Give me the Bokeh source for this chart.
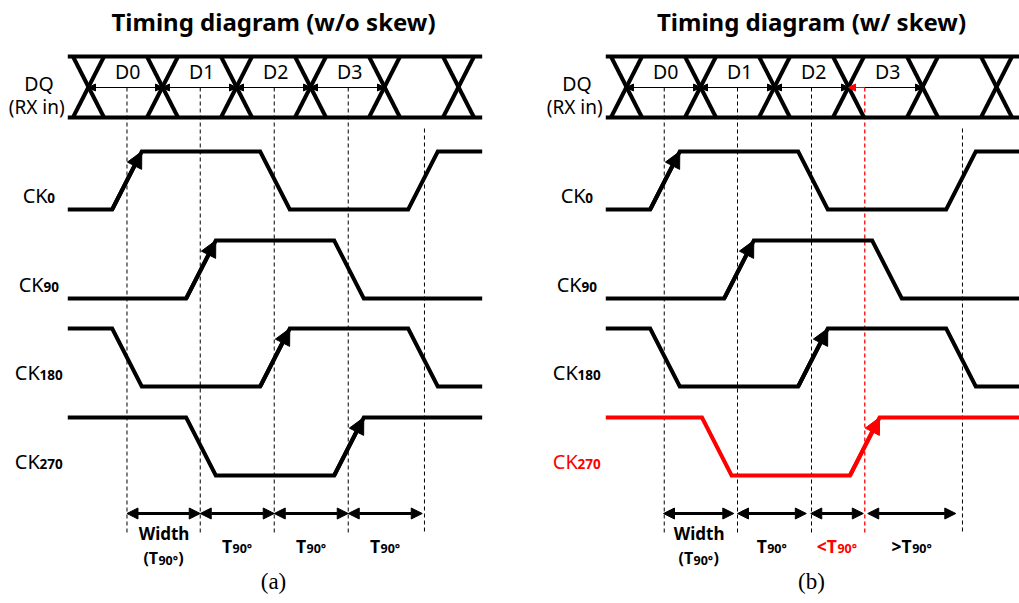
from bokeh.plotting import figure
from bokeh.layouts import row
from bokeh.models import Range1d, Arrow, NormalHead
from bokeh.core.properties import value
from bokeh.embed import file_html
from bokeh.resources import INLINE

# ---------------- data (times in unit intervals, UI) ----------------
titles = ["Timing diagram (w/o skew)", "Timing diagram (w/ skew)"]
panel_tags = ["(a)", "(b)"]
dq_crossings = [0, 1, 2, 3, 4, 5]
dq_words = ["D0", "D1", "D2", "D3"]
clock_subs = ["0", "90", "180", "270"]
clock_init = [0, 0, 1, 1]
clock_edges = [[0.52, 2.52, 4.52], [1.52, 3.52], [0.52, 2.52, 4.52], [1.52, 3.52]]
clock_sample_edge = [0.52, 1.52, 2.52, 3.52]
edge_time = 0.40
ck270_skew = [0.0, -0.30]
sample_marks_a = [0.52, 1.51, 2.51, 3.51, 4.54]
sample_marks_b = [0.51, 1.50, 2.50, 4.54]
skew_mark_b = 3.22
span_a = [(0.52, 1.51), (1.51, 2.51), (2.51, 3.51), (3.51, 4.51)]
span_b = [(0.50, 1.45), (1.50, 2.43), (2.49, 3.20), (3.26, 4.45)]
span_labels_a = ["Width", "T90", "T90", "T90"]
span_labels_b = ["Width", "T90", "<T90", ">T90"]
t_begin, t_end = -0.28, 5.32

# ---------------- layout / style ----------------
FONT = "Noto Sans"
RED = "#ff0000"
PX_PER_UI = 74.0
H = 603
PANEL_W = [510, 509]
ORIGIN_PX = [88, 116]
DQ_TOP, DQ_BOT, DQ_MID = 56, 117, 87
CK_HIGH = [151, 240, 328, 417]
SWING = 58
X_HALF = 0.21
LABEL_T = -0.67

EM = {"C": 0.632, "K": 0.604, "T": 0.60, "(": 0.34, ")": 0.34, "<": 0.58,
      ">": 0.58, "°": 0.43, "W": 0.96, "i": 0.30, "d": 0.63, "t": 0.40, "h": 0.64}


def text_w(s, size):
    return sum(EM.get(ch, 0.58) for ch in s) * size


def pieces_label(p, cx, base_y, pieces, color="black"):
    widths = [text_w(t, s) for t, s, _, _ in pieces]
    off = -sum(widths) / 2.0
    for (t, s, dy, b), w in zip(pieces, widths):
        p.text(x=[cx], y=[base_y + dy], text=[t], x_offset=off,
               text_align="left", text_baseline="alphabetic",
               text_font=value(FONT), text_font_size=f"{s}px",
               text_font_style="bold" if b else "normal", text_color=color)
        off += w


def clock_path(init, edges, yh, yl):
    lvl = init
    xs = [t_begin]
    ys = [yh if lvl else yl]
    for e in edges:
        xs += [e - edge_time / 2, e + edge_time / 2]
        ys += [ys[-1], yl if lvl else yh]
        lvl = 1 - lvl
    xs.append(t_end)
    ys.append(ys[-1])
    return xs, ys


def span_label(p, cx, lab, color):
    if lab == "Width":
        pieces_label(p, cx, 533, [("Width", 17, 0, True)], color)
        pieces_label(p, cx, 557, [("(T", 16, 0, True), ("90°", 12.5, 3, True), (")", 16, 0, True)], color)
    else:
        pre = lab[:-2]
        pieces_label(p, cx, 545, [(pre, 17.5, 0, True), ("90°", 12.5, 3, True)], color)


def build(k):
    w = PANEL_W[k]
    o = ORIGIN_PX[k]
    p = figure(width=w, height=H, output_backend="svg", toolbar_location=None,
               x_range=Range1d(-o / PX_PER_UI, (w - o) / PX_PER_UI),
               y_range=Range1d(H, 0), min_border=0)
    p.axis.visible = False
    p.grid.visible = False
    p.outline_line_color = None
    p.background_fill_color = "white"
    p.border_fill_color = "white"

    # dashed sampling markers
    marks = sample_marks_a if k == 0 else sample_marks_b
    xs, ys = [], []
    for i, m in enumerate(marks):
        top = 128 if i == len(marks) - 1 else DQ_MID
        xs.append([m, m])
        ys.append([top, 533])
    p.multi_line(xs, ys, line_color="black", line_width=1, line_dash="4 3")
    if k == 1:
        p.line([skew_mark_b, skew_mark_b], [DQ_MID, 535], line_color=RED,
               line_width=1.3, line_dash="4 3")

    # DQ bus
    p.multi_line([[t_begin, t_end], [t_begin, t_end]], [[DQ_TOP, DQ_TOP], [DQ_BOT, DQ_BOT]],
                 line_color="black", line_width=4)
    xs, ys = [], []
    for c in dq_crossings:
        xs += [[c - X_HALF, c + X_HALF], [c - X_HALF, c + X_HALF]]
        ys += [[DQ_TOP, DQ_BOT], [DQ_BOT, DQ_TOP]]
    p.multi_line(xs, ys, line_color="black", line_width=4)

    # DQ word arrows
    if k == 0:
        segs = [(dq_crossings[i], dq_crossings[i + 1], True, True, "black") for i in range(4)]
    else:
        segs = [(dq_crossings[i], dq_crossings[i + 1], True, True, "black") for i in range(3)]
        segs.append((skew_mark_b, dq_crossings[4], False, True, "black"))
        segs.append((skew_mark_b, dq_crossings[3], False, True, RED))
    for a, b, hs, he, col in segs:
        p.add_layout(Arrow(x_start=a, y_start=DQ_MID, x_end=b, y_end=DQ_MID,
                           line_color=col, line_width=1.2,
                           start=NormalHead(size=7, fill_color=col, line_color=col) if hs else None,
                           end=NormalHead(size=7, fill_color=col, line_color=col) if he else None))
    for i, wd in enumerate(dq_words):
        p.text(x=[i + 0.53], y=[71], text=[wd], text_align="center", text_baseline="middle",
               text_font=value(FONT), text_font_size="19.5px", text_color="black")
    p.text(x=[LABEL_T], y=[83], text=["DQ"], text_align="center", text_baseline="middle",
           text_font=value(FONT), text_font_size="19.5px", text_color="black")
    p.text(x=[LABEL_T - 0.03], y=[106], text=["(RX in)"], text_align="center", text_baseline="middle",
           text_font=value(FONT), text_font_size="19px", text_color="black")

    # clocks
    for i in range(4):
        shift = ck270_skew[k] if i == 3 else 0.0
        col = RED if (i == 3 and k == 1) else "black"
        yh = CK_HIGH[i]
        yl = yh + SWING
        edges = [e + shift for e in clock_edges[i]]
        xs, ys = clock_path(clock_init[i], edges, yh, yl)
        p.line(xs, ys, line_color=col, line_width=4, line_join="miter")
        se = clock_sample_edge[i] + shift
        p.add_layout(Arrow(x_start=se - edge_time / 2, y_start=yl,
                           x_end=se + edge_time / 2, y_end=yh,
                           line_color=col, line_width=4, start=None,
                           end=NormalHead(size=16, fill_color=col, line_color=col)))
        pieces_label(p, LABEL_T, yl - 14, [("CK", 20, 0, False), (clock_subs[i], 13.5, 2, True)], col)

    # bottom spans
    spans = span_a if k == 0 else span_b
    labs = span_labels_a if k == 0 else span_labels_b
    for (a, b), lab in zip(spans, labs):
        p.add_layout(Arrow(x_start=a, y_start=513, x_end=b, y_end=513,
                           line_color="black", line_width=3,
                           start=NormalHead(size=11, fill_color="black", line_color="black"),
                           end=NormalHead(size=11, fill_color="black", line_color="black")))
        col = RED if lab.startswith("<") else "black"
        span_label(p, (a + b) / 2, lab, col)

    # titles
    p.text(x=[2.5], y=[21], text=[titles[k]], text_align="center", text_baseline="middle",
           text_font=value(FONT), text_font_size="24px", text_font_style="bold",
           text_color="black")
    p.text(x=[2.5], y=[581], text=[panel_tags[k]], text_align="center", text_baseline="middle",
           text_font=value("Liberation Serif"), text_font_size="23px", text_color="black")
    return p


layout = row(build(0), build(1), spacing=0)
open("out.html", "w").write(file_html(layout, INLINE))
